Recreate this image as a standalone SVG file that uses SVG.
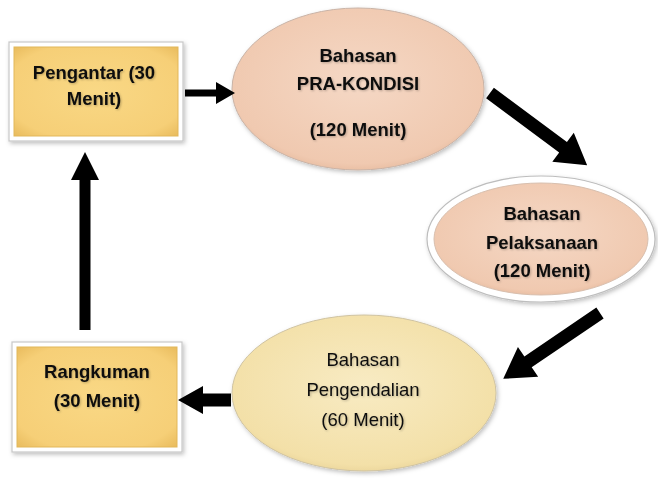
<svg xmlns="http://www.w3.org/2000/svg" width="658" height="486" viewBox="0 0 658 486">
<style>
  .t { font-family: "Liberation Sans", Arial, sans-serif; font-size: 18.5px; fill: #111; text-anchor: middle; }
  .b { font-weight: bold; }
  .frame { fill: #ffffff; stroke: #c8c8c8; stroke-width: 1.2; }
  .box { fill: url(#gold); stroke: #e2b75a; stroke-width: 1; }
  .arrow { fill: #000; }
</style>
<defs>
  <filter id="sh" x="-20%" y="-20%" width="140%" height="140%">
    <feDropShadow dx="1.5" dy="2" stdDeviation="2" flood-color="#000" flood-opacity="0.25"/>
  </filter>
  <filter id="ts" x="-10%" y="-30%" width="120%" height="160%">
    <feDropShadow dx="1" dy="1" stdDeviation="0.8" flood-color="#000" flood-opacity="0.25"/>
  </filter>
  <radialGradient id="gold" cx="50%" cy="50%" r="70%">
    <stop offset="0" stop-color="#f9d885"/>
    <stop offset="0.8" stop-color="#f6cf77"/>
    <stop offset="1" stop-color="#e9bc5e"/>
  </radialGradient>
  <radialGradient id="peach" cx="50%" cy="45%" r="60%">
    <stop offset="0" stop-color="#f5d8c5"/>
    <stop offset="0.85" stop-color="#f0c9b0"/>
    <stop offset="1" stop-color="#e3b598"/>
  </radialGradient>
  <radialGradient id="yellow" cx="50%" cy="45%" r="60%">
    <stop offset="0" stop-color="#f8ebc3"/>
    <stop offset="0.85" stop-color="#f3e0a8"/>
    <stop offset="1" stop-color="#e6cf93"/>
  </radialGradient>
</defs>

<g id="pengantar">
  <rect class="frame" x="9" y="42" width="174" height="99" filter="url(#sh)"/>
  <rect class="box" x="14" y="47" width="164" height="89"/>
  <text class="t b" x="94" y="79" filter="url(#ts)">Pengantar (30</text>
  <text class="t b" x="94" y="105" filter="url(#ts)">Menit)</text>
</g>

<g id="pra-kondisi">
  <ellipse cx="358" cy="89" rx="126" ry="81" fill="url(#peach)" stroke="#c9b3a6" stroke-width="1" filter="url(#sh)"/>
  <text class="t b" x="358" y="62" filter="url(#ts)">Bahasan</text>
  <text class="t b" x="358" y="90" filter="url(#ts)">PRA-KONDISI</text>
  <text class="t b" x="358" y="136" filter="url(#ts)">(120 Menit)</text>
</g>

<g id="pelaksanaan">
  <ellipse cx="541" cy="239" rx="114" ry="63" fill="#ffffff" stroke="#bdbdbd" stroke-width="1.2" filter="url(#sh)"/>
  <ellipse cx="541" cy="239" rx="107" ry="56" fill="url(#peach)" stroke="#d8bfae" stroke-width="1"/>
  <text class="t b" x="542" y="220" filter="url(#ts)">Bahasan</text>
  <text class="t b" x="542" y="249" filter="url(#ts)">Pelaksanaan</text>
  <text class="t b" x="542" y="277" filter="url(#ts)">(120 Menit)</text>
</g>

<g id="pengendalian">
  <ellipse cx="364" cy="393" rx="132" ry="78" fill="url(#yellow)" stroke="#cfc3a2" stroke-width="1" filter="url(#sh)"/>
  <text class="t" x="363" y="366" filter="url(#ts)">Bahasan</text>
  <text class="t" x="363" y="396" filter="url(#ts)">Pengendalian</text>
  <text class="t" x="363" y="426" filter="url(#ts)">(60 Menit)</text>
</g>

<g id="rangkuman">
  <rect class="frame" x="12" y="342" width="170" height="110" filter="url(#sh)"/>
  <rect class="box" x="17" y="347" width="160" height="100"/>
  <text class="t b" x="97" y="378" filter="url(#ts)">Rangkuman</text>
  <text class="t b" x="97" y="407" filter="url(#ts)">(30 Menit)</text>
</g>

<g id="connectors">
  <polygon class="arrow" transform="translate(185,93)" points="0,-3.5 31,-3.5 31,-11 50,0 31,11 31,3.5 0,3.5"/>
  <polygon class="arrow" transform="translate(490,93) rotate(36.6)" points="0,-6.5 91,-6.5 91,-18 121,0 91,18 91,6.5 0,6.5"/>
  <polygon class="arrow" transform="translate(600,313) rotate(145.8)" points="0,-6.5 87,-6.5 87,-18 117,0 87,18 87,6.5 0,6.5"/>
  <polygon class="arrow" transform="translate(231,400) rotate(180)" points="0,-6.5 28,-6.5 28,-14 53,0 28,14 28,6.5 0,6.5"/>
  <polygon class="arrow" transform="translate(85,330) rotate(-90)" points="0,-5.5 150,-5.5 150,-14 178,0 150,14 150,5.5 0,5.5"/>
</g>
</svg>
